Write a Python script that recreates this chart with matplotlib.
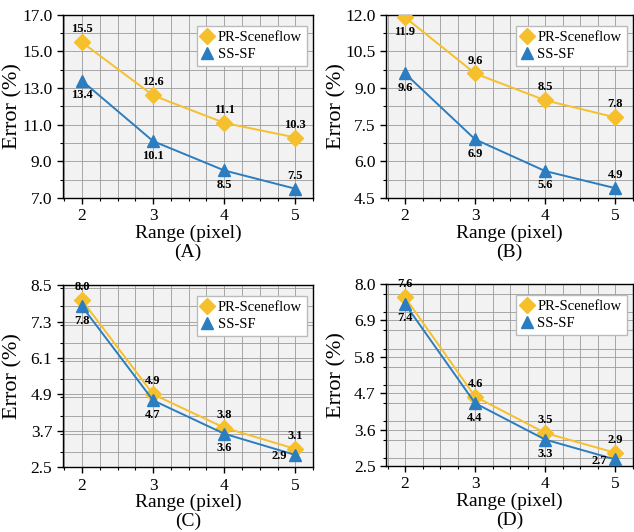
import matplotlib
matplotlib.use("Agg")
import matplotlib.pyplot as plt
from matplotlib.ticker import MultipleLocator, FormatStrFormatter

plt.rcParams['font.family'] = ['Liberation Serif', 'DejaVu Serif']

ranges = [2, 3, 4, 5]

pr_a = [15.5, 12.6, 11.1, 10.3]
ss_a = [13.4, 10.1, 8.5, 7.5]
pr_b = [11.9, 9.6, 8.5, 7.8]
ss_b = [9.6, 6.9, 5.6, 4.9]
pr_c = [8.0, 4.9, 3.8, 3.1]
ss_c = [7.8, 4.7, 3.6, 2.9]
pr_d = [7.6, 4.6, 3.5, 2.9]
ss_d = [7.4, 4.4, 3.3, 2.7]

panel_names = ['(A)', '(B)', '(C)', '(D)']
ylims = [(7.0, 17.0), (4.5, 12.0), (2.5, 8.5), (2.5, 8.0)]
ysteps = [2.0, 1.5, 1.2, 1.1]

yellow = '#F5C02C'
blue = '#2B7DC0'

# where the value labels go: a = above, b = below, L = left
pr_pos = [['a', 'a', 'a', 'a'], ['b', 'a', 'a', 'a'], ['a', 'a', 'a', 'a'], ['a', 'a', 'a', 'a']]
ss_pos = [['b', 'b', 'b', 'a'], ['b', 'b', 'b', 'a'], ['b', 'b', 'b', 'L'], ['b', 'b', 'b', 'L']]

boxes = [
    [0.099, 0.628, 0.395, 0.344],
    [0.609, 0.628, 0.389, 0.344],
    [0.099, 0.122, 0.395, 0.342],
    [0.609, 0.124, 0.389, 0.342],
]

fig = plt.figure(figsize=(6.34, 5.32), dpi=100)

data = [(pr_a, ss_a), (pr_b, ss_b), (pr_c, ss_c), (pr_d, ss_d)]


def put_labels(ax, xs, ys, where):
    for x, y, w in zip(xs, ys, where):
        if w == 'a':
            off, ha, va = (0, 5), 'center', 'bottom'
        elif w == 'b':
            off, ha, va = (0, -6), 'center', 'top'
        else:
            off, ha, va = (-6, -1), 'right', 'center'
        ax.annotate(f'{y:.1f}', (x, y), xytext=off, textcoords='offset points',
                    ha=ha, va=va, fontsize=9, fontweight='bold')


for i, (pr, ss) in enumerate(data):
    ax = fig.add_axes(boxes[i])
    ax.set_facecolor('#F2F2F2')
    ax.plot(ranges, pr, color=yellow, marker='D', markersize=8, lw=1.4,
            label='PR-Sceneflow', zorder=3)
    ax.plot(ranges, ss, color=blue, marker='^', markersize=9, lw=1.4,
            label='SS-SF', zorder=3)
    put_labels(ax, ranges, pr, pr_pos[i])
    put_labels(ax, ranges, ss, ss_pos[i])

    ax.set_xlim(1.73, 5.25)
    ax.set_ylim(*ylims[i])
    ax.xaxis.set_major_locator(MultipleLocator(1))
    ax.xaxis.set_minor_locator(MultipleLocator(0.25))
    ax.set_yticks([ylims[i][0] + k * ysteps[i] for k in range(6)])
    ax.yaxis.set_minor_locator(MultipleLocator(ysteps[i] / 2))
    ax.yaxis.set_major_formatter(FormatStrFormatter('%.1f'))
    ax.grid(True, which='both', color='#9A9A9A', lw=0.6)
    ax.set_axisbelow(True)
    ax.tick_params(which='major', labelsize=12.5, length=4, width=1)
    ax.tick_params(which='minor', length=2.5, width=0.8)
    for s in ax.spines.values():
        s.set_linewidth(1.0)
    ax.set_xlabel('Range (pixel)', fontsize=14, labelpad=0)
    ax.set_ylabel('Error (%)', fontsize=16)
    ax.yaxis.set_label_coords(-0.16, 0.5)
    ax.text(0.5, -0.3, panel_names[i], transform=ax.transAxes, ha='center',
            va='center', fontsize=14)
    leg = ax.legend(loc='upper right', fontsize=10.5, handlelength=0.8,
                    handletextpad=0.3, borderpad=0.35, labelspacing=0.25,
                    fancybox=False, framealpha=1, edgecolor='#BBBBBB',
                    borderaxespad=0, bbox_to_anchor=(0.975, 0.94))
    for h in leg.legend_handles:
        h.set_linestyle('none')

fig.savefig('out.png', dpi=100)
